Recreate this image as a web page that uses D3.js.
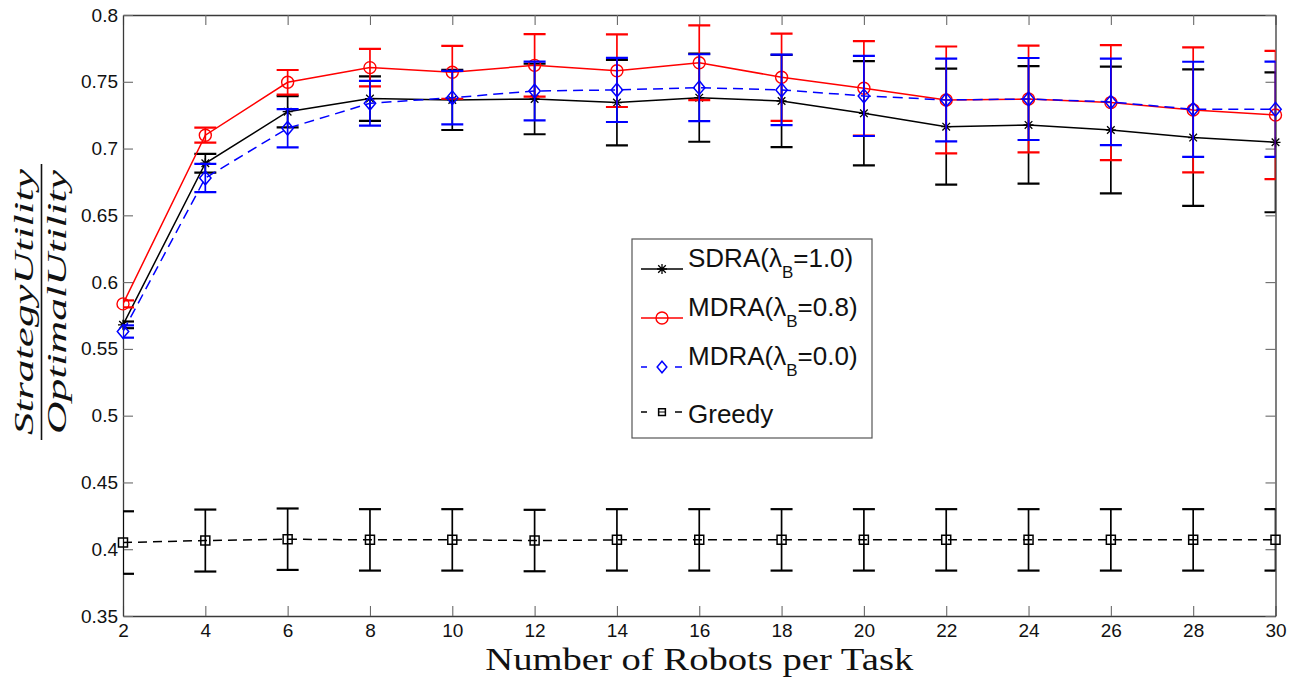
<!DOCTYPE html>
<html>
<head>
<meta charset="utf-8">
<script src="https://cdn.jsdelivr.net/npm/d3@7"></script>
<style>
  html, body { margin: 0; padding: 0; background: #fff; }
  svg { display: block; }
</style>
</head>
<body>
<svg id="chart" width="1299" height="677"></svg>
<script>
// ---------------- data ----------------
const robots = [2, 4, 6, 8, 10, 12, 14, 16, 18, 20, 22, 24, 26, 28, 30];
const xTickLabels = robots.map(String);
const yTickValues = [0.35, 0.4, 0.45, 0.5, 0.55, 0.6, 0.65, 0.7, 0.75, 0.8];

const sdra     = [0.568, 0.689, 0.7276, 0.7374, 0.7364, 0.7371, 0.7344, 0.7381, 0.7356, 0.7264, 0.7164, 0.7177, 0.7139, 0.7082, 0.7047];
const sdraErr  = [0.0025, 0.007, 0.0117, 0.0166, 0.0225, 0.0264, 0.032, 0.033, 0.0346, 0.039, 0.0434, 0.044, 0.0474, 0.0511, 0.0524];
const mdra08    = [0.5837, 0.710, 0.7496, 0.7606, 0.7571, 0.7623, 0.7583, 0.7643, 0.7534, 0.7451, 0.7364, 0.7371, 0.7344, 0.7289, 0.7251];
const mdra08Err = [0.0026, 0.0056, 0.0092, 0.014, 0.0198, 0.0234, 0.0272, 0.028, 0.0326, 0.0354, 0.040, 0.040, 0.043, 0.0468, 0.048];
const mdra00    = [0.563, 0.678, 0.7152, 0.7339, 0.7381, 0.7431, 0.7439, 0.7456, 0.7439, 0.7394, 0.7364, 0.7371, 0.7349, 0.7294, 0.7294];
const mdra00Err = [0.0046, 0.0106, 0.0143, 0.0168, 0.020, 0.022, 0.024, 0.025, 0.0264, 0.030, 0.031, 0.0307, 0.0324, 0.0356, 0.0357];
const greedy    = [0.405, 0.4065, 0.4075, 0.407, 0.407, 0.4065, 0.407, 0.407, 0.407, 0.407, 0.407, 0.407, 0.407, 0.407, 0.407];
const greedyErr = [0.0234, 0.0232, 0.023, 0.023, 0.023, 0.023, 0.023, 0.023, 0.023, 0.023, 0.023, 0.023, 0.023, 0.023, 0.023];

const seriesNames = ["SDRA", "MDRA(0.8)", "MDRA(0.0)", "Greedy"];

// ---------------- layout ----------------
const svg = d3.select("#chart");
const L = 123, R = 1275.5, T = 15, B = 616;

const x = d3.scaleLinear().domain([2, 30]).range([L, R]);
const y = d3.scaleLinear().domain([0.35, 0.8]).range([B, T]);

const series = [
  { name: seriesNames[0], vals: sdra,   err: sdraErr,   color: "#000000", dash: null,   marker: "star" },
  { name: seriesNames[1], vals: mdra08, err: mdra08Err, color: "#ff0000", dash: null,   marker: "circle" },
  { name: seriesNames[2], vals: mdra00, err: mdra00Err, color: "#0000ff", dash: "10,6", marker: "diamond" },
  { name: seriesNames[3], vals: greedy, err: greedyErr, color: "#000000", dash: "9,6",  marker: "square" }
];

// clip for error bars and lines
svg.append("defs").append("clipPath").attr("id", "plotclip")
  .append("rect").attr("x", L).attr("y", T).attr("width", R - L).attr("height", B - T);

// axes
const axisColor = "#3a3a3a";
const fontSans = "Liberation Sans, Arial, Helvetica, sans-serif";

const gx = svg.append("g").attr("transform", `translate(0,${B})`)
  .call(d3.axisBottom(x).tickValues(robots).tickFormat((d, i) => xTickLabels[i])
        .tickSizeInner(-10).tickSizeOuter(0).tickPadding(8));
const gxTop = svg.append("g").attr("transform", `translate(0,${T})`)
  .call(d3.axisTop(x).tickValues(robots).tickFormat("").tickSizeInner(-10).tickSizeOuter(0));
const gy = svg.append("g").attr("transform", `translate(${L},0)`)
  .call(d3.axisLeft(y).tickValues(yTickValues).tickFormat(d3.format("~g"))
        .tickSizeInner(-10).tickSizeOuter(0).tickPadding(5));
const gyR = svg.append("g").attr("transform", `translate(${R},0)`)
  .call(d3.axisRight(y).tickValues(yTickValues).tickFormat("").tickSizeInner(-10).tickSizeOuter(0));

[gx, gxTop, gy, gyR].forEach(g => {
  g.select(".domain").attr("stroke", axisColor).attr("stroke-width", 1.3);
  g.selectAll(".tick line").attr("stroke", "#6a6a6a").attr("stroke-width", 1.1);
  g.selectAll(".tick text").attr("font-family", fontSans).attr("font-size", 19).attr("fill", "#111");
});

// markers
function markerPath(type) {
  if (type === "star") {
    const s = 5, d = 3.8;
    return `M${-s},0L${s},0M0,${-s}L0,${s}M${-d},${-d}L${d},${d}M${-d},${d}L${d},${-d}`;
  }
  if (type === "diamond") return "M0,-6.8L5.7,0L0,6.8L-5.7,0Z";
  if (type === "square") return "M-4.5,-4.5H4.5V4.5H-4.5Z";
  return null;
}
function drawMarker(g, type, color, cx, cy, scale) {
  scale = scale || 1;
  if (type === "circle") {
    g.append("circle").attr("cx", cx).attr("cy", cy).attr("r", 6 * scale)
      .attr("fill", "none").attr("stroke", color).attr("stroke-width", 1.4);
  } else {
    g.append("path").attr("d", markerPath(type))
      .attr("transform", `translate(${cx},${cy}) scale(${scale})`)
      .attr("fill", "none").attr("stroke", color)
      .attr("stroke-width", (type === "star" ? 1.3 : 1.5) / scale);
  }
}

const line = d3.line().x((d, i) => x(robots[i])).y(d => y(d));
const capHalf = 11;

series.forEach(s => {
  const g = svg.append("g");
  const gc = g.append("g").attr("clip-path", "url(#plotclip)");
  // error bars
  s.vals.forEach((v, i) => {
    const cx = x(robots[i]), lo = y(v - s.err[i]), hi = y(v + s.err[i]);
    gc.append("line").attr("x1", cx).attr("x2", cx).attr("y1", lo).attr("y2", hi)
      .attr("stroke", s.color).attr("stroke-width", 1.7);
    [lo, hi].forEach(yy => gc.append("line")
      .attr("x1", cx - capHalf).attr("x2", cx + capHalf).attr("y1", yy).attr("y2", yy)
      .attr("stroke", s.color).attr("stroke-width", 2.2));
  });
  // line
  gc.append("path").datum(s.vals).attr("d", line)
    .attr("fill", "none").attr("stroke", s.color).attr("stroke-width", 1.5)
    .attr("stroke-dasharray", s.dash);
  // markers
  s.vals.forEach((v, i) => drawMarker(g, s.marker, s.color, x(robots[i]), y(v)));
});

// x-axis title
svg.append("text").attr("x", (L + R) / 2).attr("y", 670)
  .attr("text-anchor", "middle")
  .attr("font-family", "Liberation Serif, 'Times New Roman', serif")
  .attr("font-size", 31).attr("fill", "#111")
  .attr("textLength", 428).attr("lengthAdjust", "spacingAndGlyphs")
  .text("Number of Robots per Task");

// y-axis label (fraction)
const yl = svg.append("g").attr("transform", "translate(0,302) rotate(-90)");
const serifIt = "Liberation Serif, 'Times New Roman', serif";
yl.append("text").attr("x", 0).attr("y", 33).attr("text-anchor", "middle")
  .attr("font-family", serifIt).attr("font-style", "italic").attr("font-size", 27).attr("fill", "#111")
  .attr("textLength", 266).attr("lengthAdjust", "spacingAndGlyphs")
  .text("StrategyUtility");
yl.append("line").attr("x1", -138).attr("x2", 138).attr("y1", 41.5).attr("y2", 41.5)
  .attr("stroke", "#111").attr("stroke-width", 1.6);
yl.append("text").attr("x", 0).attr("y", 66).attr("text-anchor", "middle")
  .attr("font-family", serifIt).attr("font-style", "italic").attr("font-size", 27).attr("fill", "#111")
  .attr("textLength", 264).attr("lengthAdjust", "spacingAndGlyphs")
  .text("OptimalUtility");

// legend
const lg = svg.append("g");
lg.append("rect").attr("x", 632).attr("y", 239).attr("width", 240).attr("height", 199)
  .attr("fill", "#fff").attr("stroke", "#555").attr("stroke-width", 1.2);
const legendRows = [
  { s: series[0], y: 269, base: 267, main: "SDRA(", sub: "B", tail: "=1.0)", dash: null },
  { s: series[1], y: 318, base: 316, main: "MDRA(", sub: "B", tail: "=0.8)", dash: null },
  { s: series[2], y: 367, base: 365, main: "MDRA(", sub: "B", tail: "=0.0)", dash: "6,28,7" },
  { s: series[3], y: 412, base: 423, main: "Greedy", sub: null, tail: null, dash: "6,28,7" }
];
legendRows.forEach(r => {
  lg.append("line").attr("x1", 641).attr("x2", 683).attr("y1", r.y).attr("y2", r.y)
    .attr("stroke", r.s.color).attr("stroke-width", 1.4).attr("stroke-dasharray", r.dash);
  drawMarker(lg, r.s.marker, r.s.color, 662, r.y, r.s.marker === "square" ? 0.75 : (r.s.marker === "diamond" ? 0.85 : 1));
  if (r.s.marker === "square") {
    lg.append("line").attr("x1", 658.6).attr("x2", 665.4).attr("y1", r.y).attr("y2", r.y)
      .attr("stroke", "#000").attr("stroke-width", 1);
  }
  const t = lg.append("text").attr("x", 688).attr("y", r.base)
    .attr("font-family", fontSans).attr("font-size", 26).attr("fill", "#111");
  if (r.sub) {
    t.append("tspan").text(r.main + "λ");
    t.append("tspan").attr("font-size", 17).attr("dy", 11).text(r.sub);
    t.append("tspan").attr("dy", -11).text(r.tail);
  } else {
    t.text(r.main);
  }
});
</script>
</body>
</html>
